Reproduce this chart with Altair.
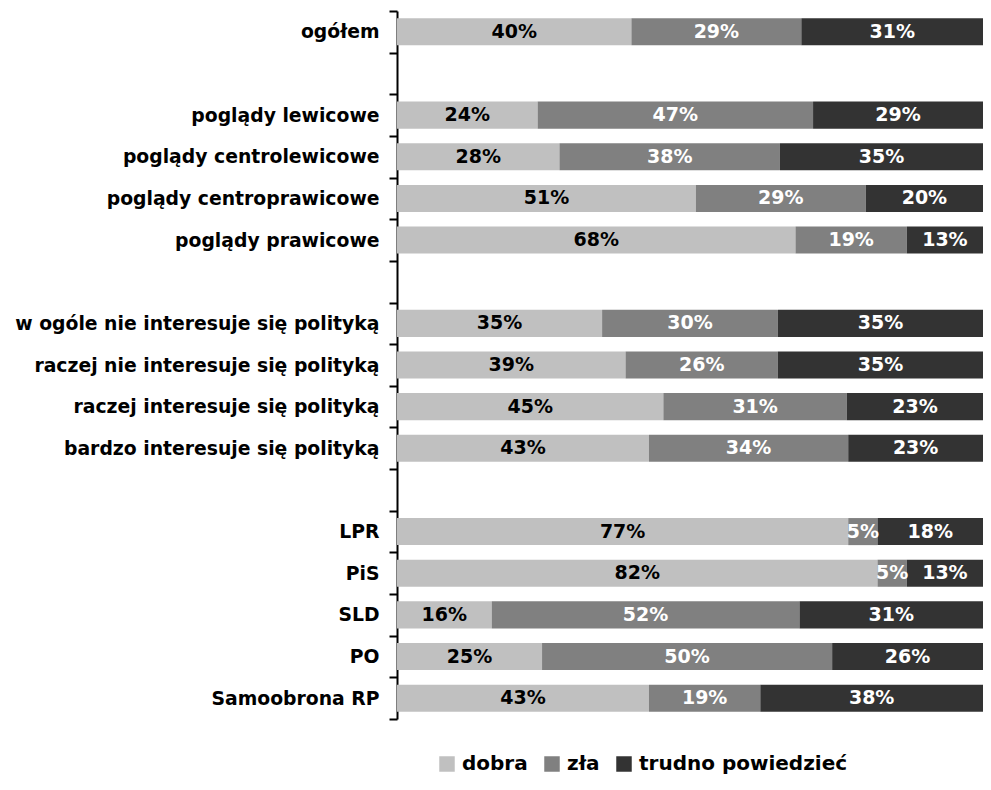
import altair as alt
import pandas as pd

categories = [
    "ogółem", " ",
    "poglądy lewicowe", "poglądy centrolewicowe", "poglądy centroprawicowe", "poglądy prawicowe", "  ",
    "w ogóle nie interesuje się polityką", "raczej nie interesuje się polityką",
    "raczej interesuje się polityką", "bardzo interesuje się polityką", "   ",
    "LPR", "PiS", "SLD", "PO", "Samoobrona RP",
]
data_categories = [c for c in categories if c.strip()]

dobra = [40, 24, 28, 51, 68, 35, 39, 45, 43, 77, 82, 16, 25, 43]
zla = [29, 47, 38, 29, 19, 30, 26, 31, 34, 5, 5, 52, 50, 19]
trudno = [31, 29, 35, 20, 13, 35, 35, 23, 23, 18, 13, 31, 26, 38]

series = ["dobra", "zła", "trudno powiedzieć"]
colors = ["#C0C0C0", "#808080", "#333333"]
text_colors = ["#000000", "#FFFFFF", "#FFFFFF"]

rows = []
for i, cat in enumerate(data_categories):
    for j, (name, vals) in enumerate(zip(series, [dobra, zla, trudno])):
        rows.append({"kat": cat, "odp": name, "val": vals[i], "ord": j,
                     "lab": f"{vals[i]}%", "tc": text_colors[j]})
df = pd.DataFrame(rows)

FONT = "DejaVu Sans"

base = alt.Chart(df)

ysc = alt.Scale(domain=categories, paddingInner=0, paddingOuter=0)

bars = base.mark_bar(height={"band": 0.65}).encode(
    y=alt.Y("kat:N", scale=ysc, sort=categories,
            axis=alt.Axis(title=None, labelFont=FONT, labelFontWeight="bold",
                          labelFontSize=18.8, labelColor="#000000", labelPadding=10,
                          domainColor="#000000", domainWidth=2,
                          tickColor="#000000", tickWidth=2, tickSize=8,
                          tickBand="extent", grid=False, labelLimit=500)),
    x=alt.X("sum(val):Q", stack="normalize",
            scale=alt.Scale(domain=[0, 1], nice=False), axis=None),
    color=alt.Color("odp:N", scale=alt.Scale(domain=series, range=colors),
                    legend=alt.Legend(title=None, orient="none", legendX=40, legendY=743,
                                      direction="horizontal", symbolType="square",
                                      symbolSize=240, symbolStrokeWidth=0,
                                      labelFont=FONT, labelFontWeight="bold",
                                      labelFontSize=20, labelColor="#000000",
                                      labelLimit=500, labelOffset=5, columnPadding=14)),
    order=alt.Order("ord:Q", sort="ascending"),
)

texts = base.transform_stack(
    stack="val", groupby=["kat"], as_=["v0", "v1"],
    sort=[alt.SortField("ord", order="ascending")], offset="normalize",
).transform_calculate(
    mid="(datum.v0 + datum.v1) / 2"
).mark_text(font=FONT, fontWeight="bold", fontSize=19, align="center", baseline="middle").encode(
    y=alt.Y("kat:N", scale=ysc, sort=categories),
    x=alt.X("mid:Q", scale=alt.Scale(domain=[0, 1], nice=False), axis=None),
    text="lab:N",
    color=alt.Color("tc:N", scale=None),
)

chart = alt.layer(bars, texts).properties(
    width=586, height=708,
    autosize=alt.AutoSizeParams(type="none"),
    padding={"left": 389, "top": 3, "right": 0, "bottom": 56},
).configure_view(stroke=None)

chart.save("out.html", embed_options={"renderer": "svg", "actions": False})
